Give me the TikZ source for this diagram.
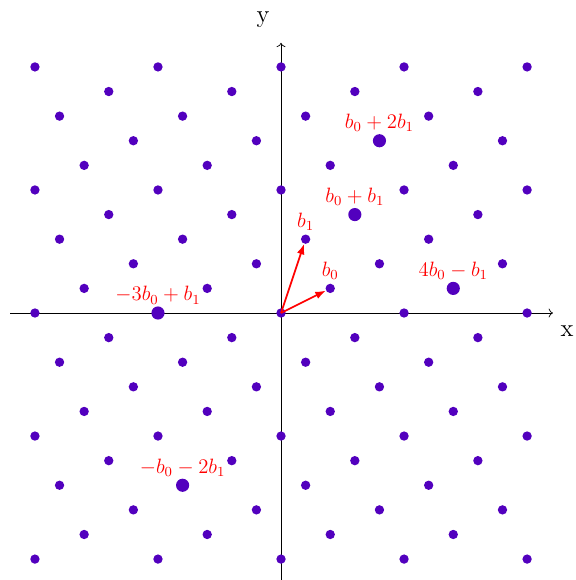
\documentclass[tikz,border=0pt]{standalone}
\usepackage{amsmath}
\usetikzlibrary{arrows.meta, positioning}
\definecolor{latcolor}{RGB}{82,0,190}
\colorlet{veccolor}{red}

\tikzset{
  latdot/.style={circle, fill=latcolor, inner sep=0pt, minimum size=5.4pt},
  bigdot/.style={latdot, minimum size=7.6pt},
  veclbl/.style={text=veccolor, font=\large, inner sep=1pt},
  vec/.style={veccolor, line width=1pt, -{Latex[length=6pt, width=4.5pt]}},
  axlbl/.style={font=\Large},
}

\begin{document}
\begin{tikzpicture}[x=0.5cm, y=0.5cm, >=To]

  % Frame: the y axis runs off the bottom edge.
  \useasboundingbox (-11.42,-10.85) rectangle (11.95,12.72);

  % Axes.
  \coordinate (xs) at (-11,0);
  \coordinate (xe) at (11.05,0);
  \coordinate (ys) at (0,-11);
  \coordinate (ye) at (0,10.98);
  \draw[->] (xs) -- (xe);
  \draw[->] (ys) -- (ye);
  \node[axlbl] (xl) at (11.62,-0.73) {x};
  \node[axlbl] (yl) at (-0.73,11.9) {y};

  % Lattice of b0=(2,1), b1=(1,3): all (x,y) with x-2y a multiple of 5.
  \foreach \x in {-10,...,10} {
    \foreach \y in {-10,...,10} {
      \pgfmathtruncatemacro{\r}{mod(\x-2*\y,5)}
      \ifnum\r=0 \node[latdot] (p\x_\y) at (\x,\y) {}; \fi
    }
  }

  % Some combinations, drawn larger.
  \node[bigdot] (q1) at (4,7) {};
  \node[bigdot] (q2) at (3,4) {};
  \node[bigdot] (q3) at (7,1) {};
  \node[bigdot] (q4) at (-5,0) {};
  \node[bigdot] (q5) at (-4,-7) {};

  % Basis vectors.
  \draw[vec] (p0_0.center) -- (p2_1);
  \draw[vec] (p0_0.center) -- (p1_3);

  \node[veclbl, above=1pt of p2_1] (lb0) {$b_0$};
  \node[veclbl, above=1pt of p1_3] (lb1) {$b_1$};
  \node[veclbl, above=0pt of q1] (lq1) {$b_0 + 2b_1$};
  \node[veclbl, above=0pt of q2] (lq2) {$b_0 + b_1$};
  \node[veclbl, above=0pt of q3] (lq3) {$4b_0 - b_1$};
  \node[veclbl, above=0pt of q4] (lq4) {$-3b_0 + b_1$};
  \node[veclbl, above=0pt of q5] (lq5) {$-b_0 - 2b_1$};

\end{tikzpicture}
\end{document}
